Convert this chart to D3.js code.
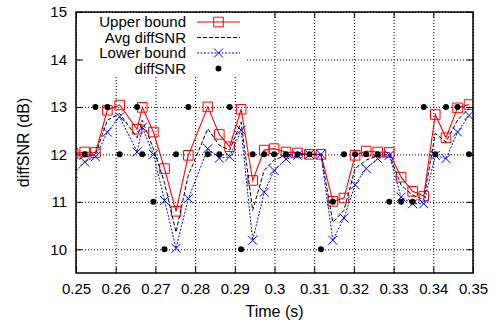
<html>
<head>
<meta http-equiv='Content-Type' content='text/html; charset=utf-8'>
<script src="https://cdn.jsdelivr.net/npm/d3@7"></script>
<style>
body { margin: 0px; background: #fff; }
svg text { font-family: "Liberation Sans", Arial, sans-serif; font-size: 15px; fill: #000; }
.grid line { stroke: #000; stroke-width: 1; stroke-dasharray: 1,2; }
.grid path { display: none; }
</style>
</head>
<body>
<script>

var w = 500, h = 328;
var margin = {left: 76, right: 27, top: 12, bottom: 55};

// data (time in s, values in dB)
var times = [0.2493, 0.2522, 0.2549, 0.2579, 0.2610, 0.2654, 0.2667, 0.2695, 0.2723, 0.2752, 0.2783,
    0.2832, 0.2861, 0.2887, 0.2916, 0.2945, 0.2974, 0.2999, 0.3029, 0.3058, 0.3088,
    0.3117, 0.3147, 0.3175, 0.3203, 0.3231, 0.3260, 0.3289, 0.3319, 0.3348, 0.3376,
    0.3405, 0.3432, 0.3461, 0.3490];
var upperBound = [12.02, 12.05, 12.04, 12.93, 13.04, 12.53, 12.99, 12.47, 11.7, 10.8, 11.98,
    13.0, 12.42, 12.16, 12.95, 11.45, 12.09, 12.12, 12.05, 12.03, 12.0,
    12.0, 11.01, 11.08, 11.98, 12.07, 12.05, 12.04, 11.52, 11.22, 11.12,
    12.84, 12.35, 12.98, 13.05];
var avgDiffSNR = [11.85, 11.95, 12.0, 12.72, 12.86, 12.35, 12.72, 12.12, 11.4, 10.36, 11.56,
    12.54, 12.19, 12.09, 12.68, 10.82, 11.66, 11.88, 11.98, 12.0, 12.0,
    12.0, 10.57, 10.82, 11.7, 11.88, 11.97, 12.0, 11.35, 11.14, 11.05,
    12.44, 12.26, 12.72, 12.97];
var lowerBound = [11.6, 11.84, 11.95, 12.47, 12.79, 12.05, 12.57, 12.0, 11.03, 10.02, 11.07,
    12.12, 11.92, 11.95, 12.51, 10.19, 11.2, 11.66, 11.9, 11.98, 12.0,
    12.0, 10.19, 10.66, 11.36, 11.7, 11.91, 11.98, 11.1, 10.96, 10.96,
    11.98, 11.91, 12.47, 12.82];
var diffSNR = [null, 12, 13, 13, 12, 13, 12, 11, 10, 12, 13,
    12, 12, 13, 10, 12, 12, 12, 12, 12, 12,
    10, 11, 12, 12, 12, 12, 11, 11, 11, 13,
    12, 13, 13, 12];
var xTicks = [0.25, 0.26, 0.27, 0.28, 0.29, 0.3, 0.31, 0.32, 0.33, 0.34, 0.35];
var yTicks = [10, 11, 12, 13, 14, 15];
var legendLabels = ["Upper bound", "Avg diffSNR", "Lower bound", "diffSNR"];

var iw = w - margin.left - margin.right;
var ih = h - margin.top - margin.bottom;

var x = d3.scaleLinear().domain([0.25, 0.35]).range([margin.left, margin.left + iw]);
var y = d3.scaleLinear().domain([9.5, 15]).range([margin.top + ih, margin.top]);

var svg = d3.select("body").append("svg")
    .attr("width", w)
    .attr("height", h);

svg.append("clipPath").attr("id", "clip")
    .append("rect")
    .attr("x", margin.left).attr("y", margin.top)
    .attr("width", iw).attr("height", ih);

/* grid */
svg.append("g").attr("class", "grid")
    .attr("transform", "translate(0," + (margin.top + ih) + ")")
    .call(d3.axisBottom(x).tickValues(xTicks).tickSize(-ih).tickFormat(""));
svg.append("g").attr("class", "grid")
    .attr("transform", "translate(" + margin.left + ",0)")
    .call(d3.axisLeft(y).tickValues(yTicks).tickSize(-iw).tickFormat(""));

/* inner tick marks on all four sides */
function ticks(g) { g.select(".domain").remove(); g.selectAll("line").attr("stroke", "#000"); }
svg.append("g").attr("transform", "translate(0," + (margin.top + ih) + ")")
    .call(d3.axisBottom(x).tickValues(xTicks).tickSize(-6).tickFormat("")).call(ticks);
svg.append("g").attr("transform", "translate(0," + margin.top + ")")
    .call(d3.axisTop(x).tickValues(xTicks).tickSize(-6).tickFormat("")).call(ticks);
svg.append("g").attr("transform", "translate(" + margin.left + ",0)")
    .call(d3.axisLeft(y).tickValues(yTicks).tickSize(-6).tickFormat("")).call(ticks);
svg.append("g").attr("transform", "translate(" + (margin.left + iw) + ",0)")
    .call(d3.axisRight(y).tickValues(yTicks).tickSize(-6).tickFormat("")).call(ticks);

/* tick labels */
var xl = svg.append("g").attr("transform", "translate(0," + (margin.top + ih) + ")")
    .call(d3.axisBottom(x).tickValues(xTicks).tickSize(0).tickPadding(10).tickFormat(d3.format("~g")));
xl.select(".domain").remove();
xl.selectAll("text").style("font-size", "15px").style("font-family", "Liberation Sans, Arial, sans-serif");
var yl = svg.append("g").attr("transform", "translate(" + margin.left + ",0)")
    .call(d3.axisLeft(y).tickValues(yTicks).tickSize(0).tickPadding(9).tickFormat(d3.format("~g")));
yl.select(".domain").remove();
yl.selectAll("text").style("font-size", "15px").style("font-family", "Liberation Sans, Arial, sans-serif");

/* legend background hides grid behind it */
svg.append("rect")
    .attr("x", 84).attr("y", 13).attr("width", 163).attr("height", 63)
    .attr("fill", "#fff");

/* series */
var rows = times.map(function(t, i) {
    return {t: t, up: upperBound[i], avg: avgDiffSNR[i], low: lowerBound[i], snr: diffSNR[i]};
});

var plot = svg.append("g").attr("clip-path", "url(#clip)");

function lineOf(key) {
    return d3.line().x(function(d) { return x(d.t); }).y(function(d) { return y(d[key]); });
}

function squarePath(cx, cy, s) {
    return "M" + (cx - s) + "," + (cy - s) + "h" + (2 * s) + "v" + (2 * s) + "h" + (-2 * s) + "Z";
}
function crossPath(cx, cy, s) {
    return "M" + (cx - s) + "," + (cy - s) + "L" + (cx + s) + "," + (cy + s) +
        "M" + (cx - s) + "," + (cy + s) + "L" + (cx + s) + "," + (cy - s);
}

plot.append("path").datum(rows)
    .attr("d", lineOf("up"))
    .attr("fill", "none").attr("stroke", "#ff0000").attr("stroke-width", 1.1);
plot.selectAll(".sq").data(rows).enter().append("path")
    .attr("d", function(d) { return squarePath(x(d.t), y(d.up), 4.8); })
    .attr("fill", "none").attr("stroke", "#ff0000").attr("stroke-width", 1);

plot.append("path").datum(rows)
    .attr("d", lineOf("avg"))
    .attr("fill", "none").attr("stroke", "#000").attr("stroke-width", 1)
    .attr("stroke-dasharray", "4,2");

plot.append("path").datum(rows)
    .attr("d", lineOf("low"))
    .attr("fill", "none").attr("stroke", "#0000ff").attr("stroke-width", 1)
    .attr("stroke-dasharray", "2,1.5");
plot.selectAll(".cx").data(rows).enter().append("path")
    .attr("d", function(d) { return crossPath(x(d.t), y(d.low), 4.5); })
    .attr("fill", "none").attr("stroke", "#0000ff").attr("stroke-width", 1);

plot.selectAll("circle").data(rows.filter(function(d) { return d.snr != null; })).enter()
    .append("circle")
    .attr("cx", function(d) { return x(d.t); })
    .attr("cy", function(d) { return y(d.snr); })
    .attr("r", 3)
    .attr("fill", "#000");

/* border */
svg.append("rect")
    .attr("x", margin.left).attr("y", margin.top)
    .attr("width", iw).attr("height", ih)
    .attr("fill", "none").attr("stroke", "#000").attr("stroke-width", 1.5);

/* legend */
var lg = svg.append("g");
legendLabels.forEach(function(label, i) {
    var ly = 22 + i * 15.5;
    lg.append("text")
        .attr("x", 186).attr("y", ly).attr("dy", "0.35em")
        .attr("text-anchor", "end")
        .text(label);
    if (i == 0) {
        lg.append("line").attr("x1", 197).attr("x2", 240).attr("y1", ly).attr("y2", ly)
            .attr("stroke", "#ff0000").attr("stroke-width", 1.1);
        lg.append("path").attr("d", squarePath(218.5, ly, 4.8))
            .attr("fill", "none").attr("stroke", "#ff0000");
    } else if (i == 1) {
        lg.append("line").attr("x1", 197).attr("x2", 240).attr("y1", ly).attr("y2", ly)
            .attr("stroke", "#000").attr("stroke-dasharray", "4,2");
    } else if (i == 2) {
        lg.append("line").attr("x1", 197).attr("x2", 240).attr("y1", ly).attr("y2", ly)
            .attr("stroke", "#0000ff").attr("stroke-dasharray", "2,1.5");
        lg.append("path").attr("d", crossPath(218.5, ly, 4.5))
            .attr("fill", "none").attr("stroke", "#0000ff");
    } else {
        lg.append("circle").attr("cx", 218.5).attr("cy", ly).attr("r", 3).attr("fill", "#000");
    }
});

/* axis titles */
svg.append("text")
    .attr("x", margin.left + iw / 2).attr("y", 317)
    .attr("text-anchor", "middle")
    .style("font-size", "16px")
    .text("Time (s)");
svg.append("text")
    .attr("transform", "translate(29," + (margin.top + ih / 2) + ") rotate(-90)")
    .attr("text-anchor", "middle")
    .style("font-size", "16px")
    .text("diffSNR (dB)");

</script>
</body>
</html>
